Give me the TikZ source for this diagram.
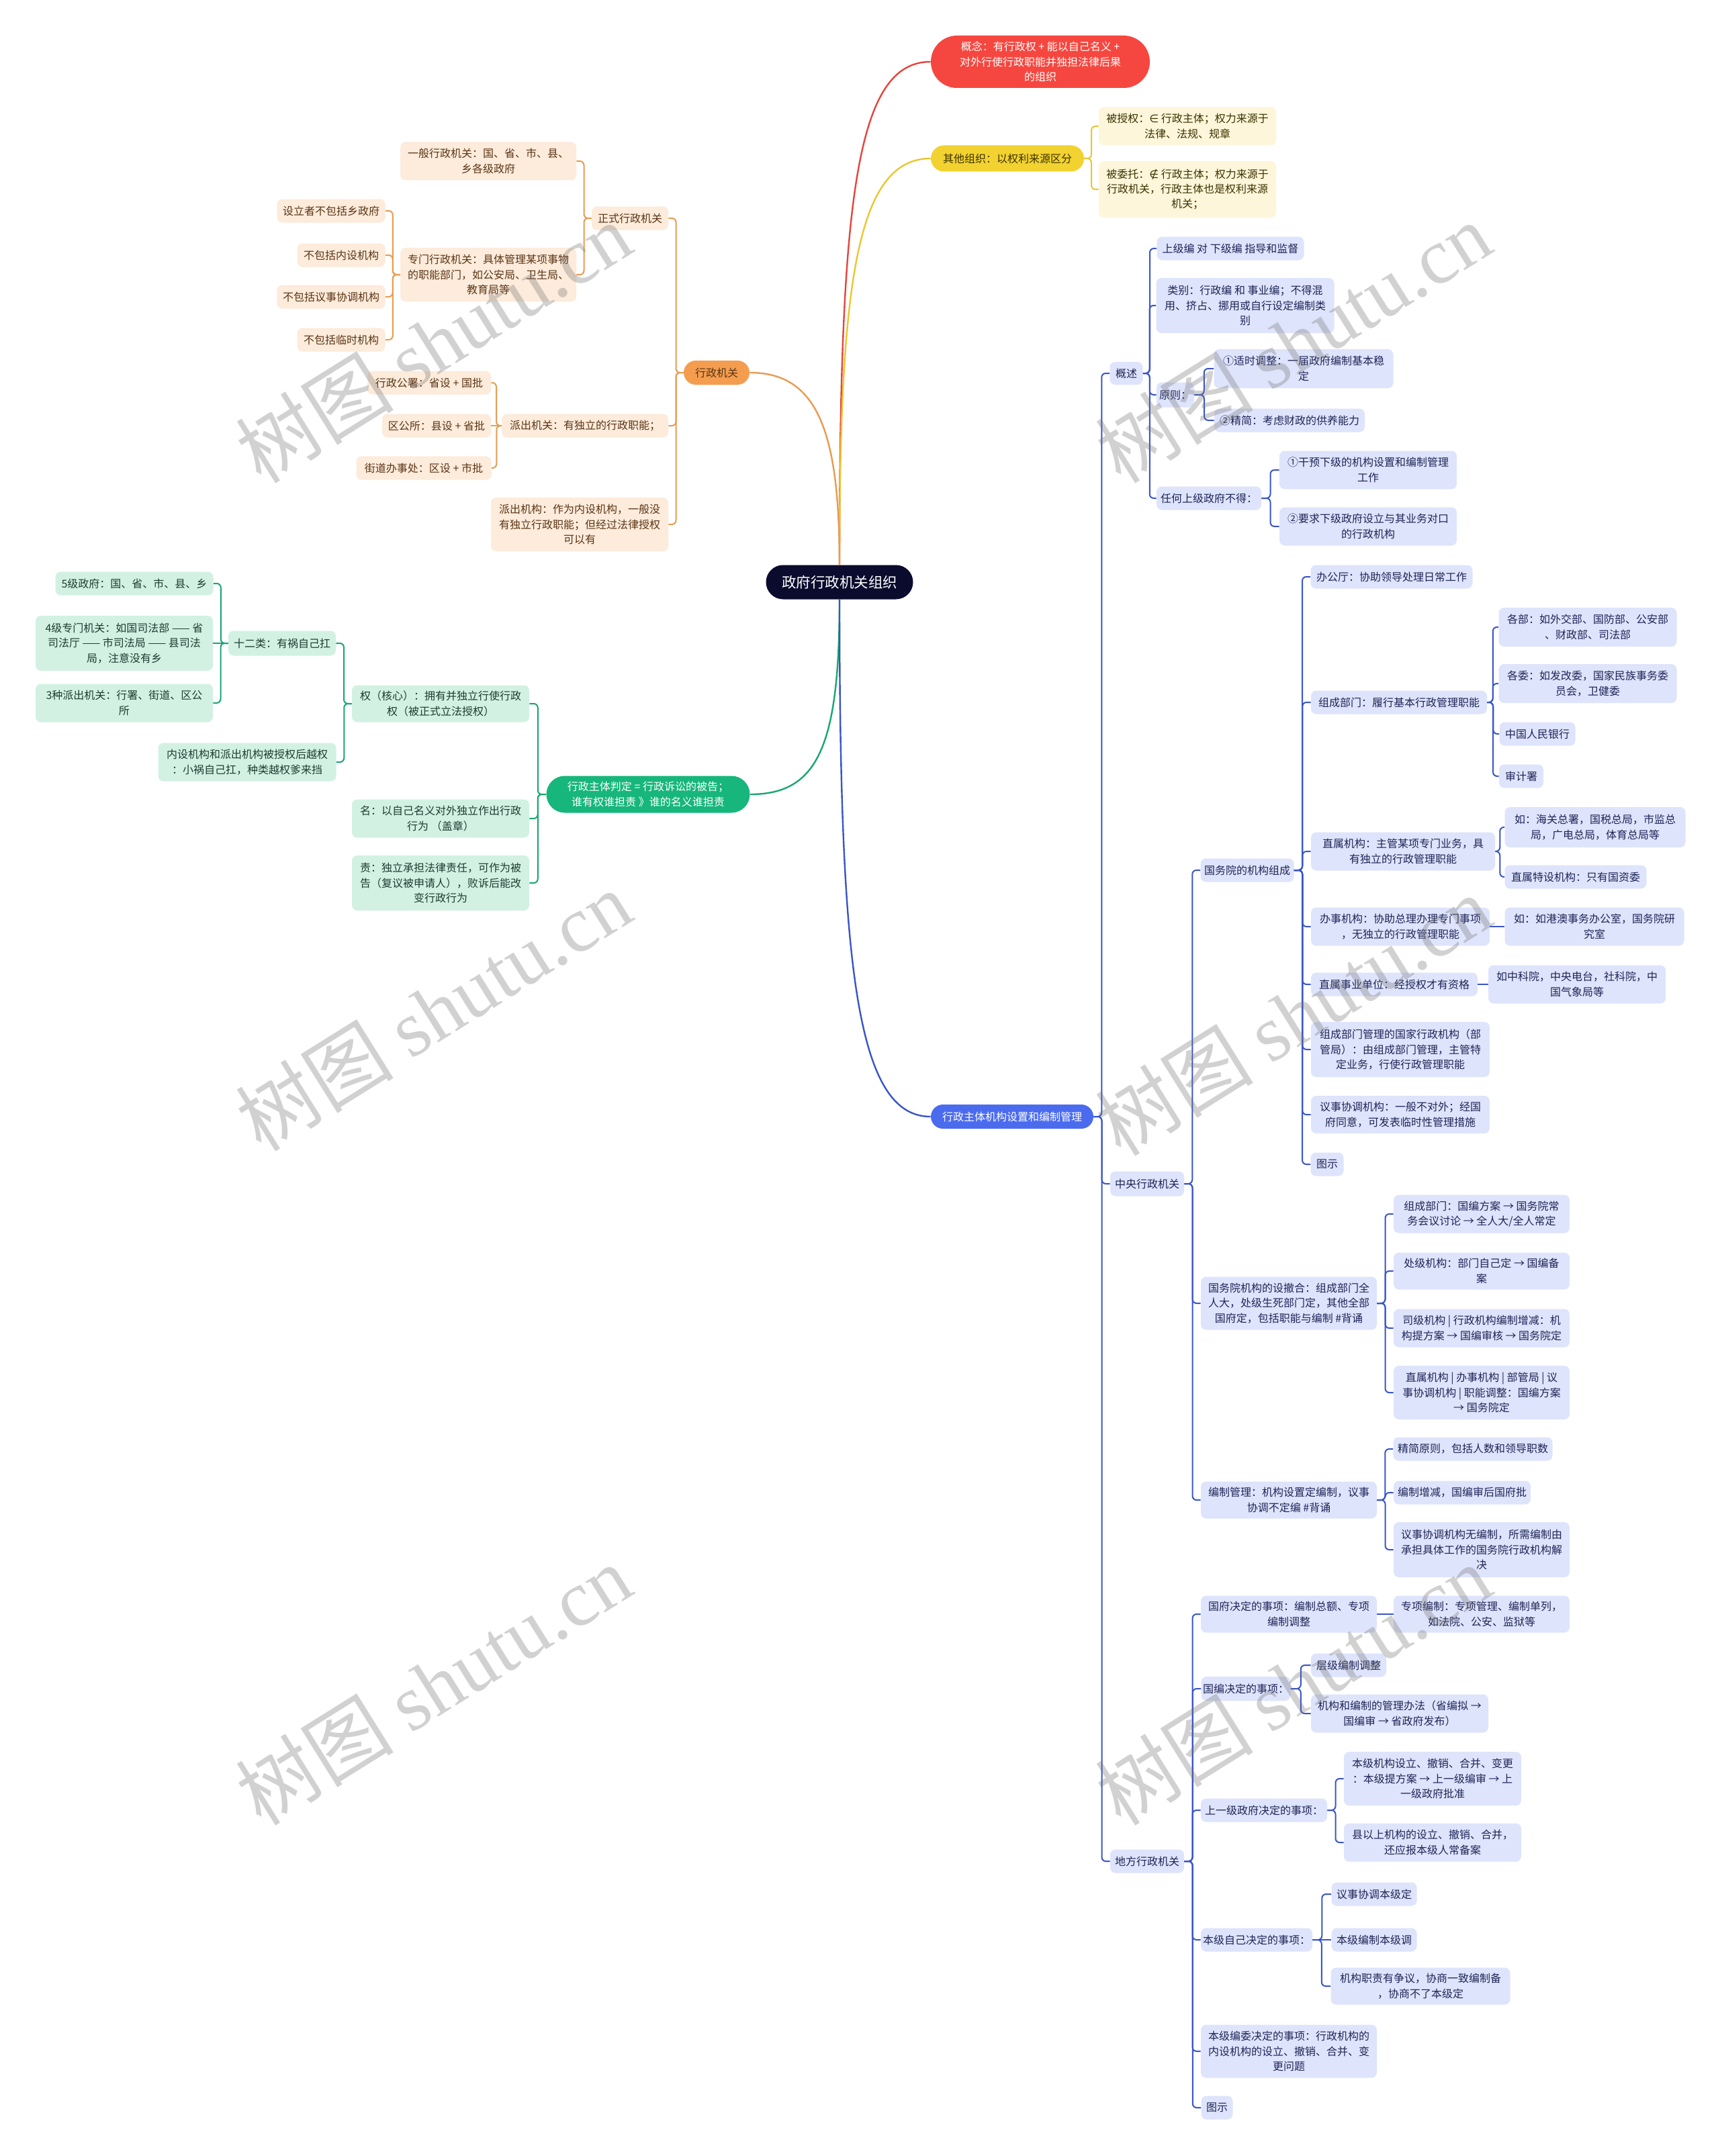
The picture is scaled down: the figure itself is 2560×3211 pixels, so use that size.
\documentclass[tikz,border=0pt]{standalone}
\usepackage{fontspec}
\setmainfont{Noto Sans CJK SC}
\newfontfamily\symf{DejaVu Sans}
\newfontfamily\wmf{Liberation Serif}
\usetikzlibrary{calc}
\definecolor{rootF}{HTML}{0B0B2E}
\definecolor{redF}{HTML}{F5473F}
\definecolor{redLn}{HTML}{E5453C}
\definecolor{yelF}{HTML}{F2D230}
\definecolor{yelL}{HTML}{FDF6DA}
\definecolor{yelLn}{HTML}{ECC631}
\definecolor{yelT}{HTML}{3D3200}
\definecolor{orgF}{HTML}{F59D4F}
\definecolor{orgL}{HTML}{FDEBDB}
\definecolor{orgLn}{HTML}{E99B50}
\definecolor{orgT}{HTML}{5A3515}
\definecolor{grnF}{HTML}{17B67C}
\definecolor{grnL}{HTML}{D2F1E3}
\definecolor{grnLn}{HTML}{1AA673}
\definecolor{grnT}{HTML}{1E3B30}
\definecolor{bluF}{HTML}{4B6BEF}
\definecolor{bluL}{HTML}{DEE4FB}
\definecolor{bluLn}{HTML}{3A55C8}
\definecolor{bluT}{HTML}{1E2556}
\newcommand\cR[3]{\draw[#1] (#2.east) -- ($(#2.east)!0.5!(#2.east -| #3.west)$) |- (#3.west);}
\newcommand\cL[3]{\draw[#1] (#2.west) -- ($(#2.west)!0.5!(#2.west -| #3.east)$) |- (#3.east);}
\begin{document}
\begin{tikzpicture}[x=0.5pt,y=-0.5pt,
  base/.style={rounded corners=4pt, inner sep=0pt, align=center, font=\fontsize{8}{11.2}\selectfont},
  sz/.style 2 args={minimum width=#1*0.5pt, minimum height=#2*0.5pt},
  pill/.style={base, rounded corners=#1*0.25pt},
  obox/.style={base, fill=orgL, text=orgT},
  ybox/.style={base, fill=yelL, text=yelT},
  gbox/.style={base, fill=grnL, text=grnT},
  bbox/.style={base, fill=bluL, text=bluT},
  oln/.style={draw=orgLn, line width=1pt, rounded corners=3pt},
  yln/.style={draw=yelLn, line width=1pt, rounded corners=3pt},
  gln/.style={draw=grnLn, line width=1pt, rounded corners=3pt},
  bln/.style={draw=bluLn, line width=1pt, rounded corners=3pt},
  wmark/.style={rotate=32, text=black!55, text opacity=0.32, font=\fontsize{59}{64}\selectfont}
]
\fill[white] (0,0) rectangle (2560,3211);
\useasboundingbox (0,0) rectangle (2560,3211);

% root
\node[pill=51, sz={219}{51}, fill=rootF, text=white, font=\fontsize{10.75}{14}\selectfont] (root) at (1250,867) {政府行政机关组织};

% red
\node[pill=78, sz={326}{78}, fill=redF, text=white] (red) at (1549,92) {概念：有行政权 + 能以自己名义 +\\对外行使行政职能并独担法律后果\\的组织};

% yellow
\node[pill=39, sz={228}{39}, fill=yelF, text=yelT] (yel) at (1500,236) {其他组织：以权利来源区分};
\node[ybox, sz={264}{57}] (y1) at (1768,188) {被授权：{\symf ∈} 行政主体；权力来源于\\法律、法规、规章};
\node[ybox, sz={264}{84}] (y2) at (1768,282) {被委托：{\symf ∉} 行政主体；权力来源于\\行政机关，行政主体也是权利来源\\机关；};

% orange
\node[pill=36, sz={98}{36}, fill=orgF, text=orgT] (org) at (1067,555) {行政机关};
\node[obox, sz={114}{35}] (o1) at (938,325) {正式行政机关};
\node[obox, sz={262}{57}] (o11) at (727,240) {一般行政机关：国、省、市、县、\\乡各级政府};
\node[obox, sz={262}{80}] (o12) at (727,409) {专门行政机关：具体管理某项事物\\的职能部门，如公安局、卫生局、\\教育局等};
\node[obox, sz={161}{35}] (o121) at (493,314) {设立者不包括乡政府};
\node[obox, sz={131}{35}] (o122) at (508,380) {不包括内设机构};
\node[obox, sz={161}{35}] (o123) at (493,442) {不包括议事协调机构};
\node[obox, sz={131}{35}] (o124) at (508,506) {不包括临时机构};
\node[obox, sz={248}{35}] (o2) at (871,634) {派出机关：有独立的行政职能；};
\node[obox, sz={184}{35}] (o21) at (639,570) {行政公署：省设 + 国批};
\node[obox, sz={162}{35}] (o22) at (650,634) {区公所：县设 + 省批};
\node[obox, sz={201}{35}] (o23) at (631,697) {街道办事处：区设 + 市批};
\node[obox, sz={264}{80}] (o3) at (863,781) {派出机构：作为内设机构，一般没\\有独立行政职能；但经过法律授权\\可以有};

% green
\node[pill=55, sz={303}{55}, fill=grnF, text=white] (grn) at (965,1183) {行政主体判定 = 行政诉讼的被告；\\谁有权谁担责 》谁的名义谁担责};
\node[gbox, sz={264}{55}] (g1) at (656,1048) {权（核心）：拥有并独立行使行政\\权（被正式立法授权）};
\node[gbox, sz={160}{37}] (g11) at (420,958) {十二类：有祸自己扛};
\node[gbox, sz={235}{35}] (g111) at (200,869) {5级政府：国、省、市、县、乡};
\node[gbox, sz={264}{82}] (g112) at (185,958) {4级专门机关：如国司法部 —— 省\\司法厅 —— 市司法局 —— 县司法\\局，注意没有乡};
\node[gbox, sz={264}{57}] (g113) at (185,1047) {3种派出机关：行署、街道、区公\\所};
\node[gbox, sz={265}{57}] (g12) at (368,1135) {内设机构和派出机构被授权后越权\\：小祸自己扛，种类越权爹来挡};
\node[gbox, sz={264}{57}] (g2) at (656,1219) {名：以自己名义对外独立作出行政\\行为 （盖章）};
\node[gbox, sz={264}{82}] (g3) at (656,1315) {责：独立承担法律责任，可作为被\\告（复议被申请人），败诉后能改\\变行政行为};

% blue
\node[pill=36, sz={242}{36}, fill=bluF, text=white] (blu) at (1507,1663) {行政主体机构设置和编制管理};
\node[bbox, sz={49}{34}] (b1) at (1677,556) {概述};
\node[bbox, sz={219}{35}] (b11) at (1832,370) {上级编 对 下级编 指导和监督};
\node[bbox, sz={265}{82}] (b12) at (1854,455) {类别：行政编 和 事业编；不得混\\用、挤占、挪用或自行设定编制类\\别};
\node[bbox, sz={56}{37}] (b13) at (1750,588) {原则：};
\node[bbox, sz={267}{58}] (b131) at (1941,549) {①适时调整：一届政府编制基本稳\\定};
\node[bbox, sz={224}{35}] (b132) at (1920,626) {②精简：考虑财政的供养能力};
\node[bbox, sz={156}{35}] (b14) at (1800,742) {任何上级政府不得：};
\node[bbox, sz={264}{57}] (b141) at (2037,700) {①干预下级的机构设置和编制管理\\工作};
\node[bbox, sz={264}{57}] (b142) at (2037,784) {②要求下级政府设立与其业务对口\\的行政机构};

\node[bbox, sz={110}{37}] (b2) at (1708,1763) {中央行政机关};
\node[bbox, sz={139}{35}] (b21) at (1857,1296) {国务院的机构组成};
\node[bbox, sz={241}{35}] (b211) at (2072,859) {办公厅：协助领导处理日常工作};
\node[bbox, sz={262}{35}] (b212) at (2083,1046) {组成部门：履行基本行政管理职能};
\node[bbox, sz={265}{58}] (b2121) at (2364,934) {各部：如外交部、国防部、公安部\\、财政部、司法部};
\node[bbox, sz={265}{58}] (b2122) at (2364,1018) {各委：如发改委，国家民族事务委\\员会，卫健委};
\node[bbox, sz={113}{35}] (b2123) at (2289,1093) {中国人民银行};
\node[bbox, sz={66}{35}] (b2124) at (2265,1156) {审计署};
\node[bbox, sz={274}{57}] (b213) at (2089,1268) {直属机构：主管某项专门业务，具\\有独立的行政管理职能};
\node[bbox, sz={269}{60}] (b2131) at (2375,1232) {如：海关总署，国税总局，市监总\\局，广电总局，体育总局等};
\node[bbox, sz={211}{35}] (b2132) at (2346,1306) {直属特设机构：只有国资委};
\node[bbox, sz={266}{57}] (b214) at (2085,1380) {办事机构：协助总理办理专门事项\\，无独立的行政管理职能};
\node[bbox, sz={267}{57}] (b2141) at (2374,1380) {如：如港澳事务办公室，国务院研\\究室};
\node[bbox, sz={248}{35}] (b215) at (2076,1466) {直属事业单位：经授权才有资格};
\node[bbox, sz={264}{57}] (b2151) at (2348,1466) {如中科院，中央电台，社科院，中\\国气象局等};
\node[bbox, sz={266}{82}] (b216) at (2085,1563) {组成部门管理的国家行政机构（部\\管局）：由组成部门管理，主管特\\定业务，行使行政管理职能};
\node[bbox, sz={266}{56}] (b217) at (2085,1660) {议事协调机构：一般不对外；经国\\府同意，可发表临时性管理措施};
\node[bbox, sz={49}{35}] (b218) at (1976,1734) {图示};

\node[bbox, sz={262}{79}] (b22) at (1919,1941) {国务院机构的设撤合：组成部门全\\人大，处级生死部门定，其他全部\\国府定，包括职能与编制 \#背诵};
\node[bbox, sz={262}{57}] (b221) at (2206,1808) {组成部门：国编方案 → 国务院常\\务会议讨论 → 全人大/全人常定};
\node[bbox, sz={262}{55}] (b222) at (2206,1893) {处级机构：部门自己定 → 国编备\\案};
\node[bbox, sz={262}{57}] (b223) at (2206,1978) {司级机构 | 行政机构编制增减：机\\构提方案 → 国编审核 → 国务院定};
\node[bbox, sz={262}{80}] (b224) at (2206,2074) {直属机构 | 办事机构 | 部管局 | 议\\事协调机构 | 职能调整：国编方案\\→ 国务院定};
\node[bbox, sz={262}{55}] (b23) at (1919,2234) {编制管理：机构设置定编制，议事\\协调不定编 \#背诵};
\node[bbox, sz={237}{35}] (b231) at (2193,2158) {精简原则，包括人数和领导职数};
\node[bbox, sz={204}{35}] (b232) at (2177,2223) {编制增减，国编审后国府批};
\node[bbox, sz={262}{82}] (b233) at (2206,2308) {议事协调机构无编制，所需编制由\\承担具体工作的国务院行政机构解\\决};

\node[bbox, sz={110}{35}] (b3) at (1708,2772) {地方行政机关};
\node[bbox, sz={262}{55}] (b31) at (1919,2404) {国府决定的事项：编制总额、专项\\编制调整};
\node[bbox, sz={262}{55}] (b311) at (2206,2404) {专项编制：专项管理、编制单列，\\如法院、公安、监狱等};
\node[bbox, sz={133}{36}] (b32) at (1855,2515) {国编决定的事项：};
\node[bbox, sz={112}{35}] (b321) at (2008,2480) {层级编制调整};
\node[bbox, sz={264}{57}] (b322) at (2084,2552) {机构和编制的管理办法（省编拟 →\\国编审 → 省政府发布）};
\node[bbox, sz={188}{35}] (b33) at (1882,2696) {上一级政府决定的事项：};
\node[bbox, sz={264}{80}] (b331) at (2133,2649) {本级机构设立、撤销、合并、变更\\：本级提方案 → 上一级编审 → 上\\一级政府批准};
\node[bbox, sz={264}{57}] (b332) at (2133,2744) {县以上机构的设立、撤销、合并，\\还应报本级人常备案};
\node[bbox, sz={166}{35}] (b34) at (1871,2889) {本级自己决定的事项：};
\node[bbox, sz={127}{35}] (b341) at (2046,2821) {议事协调本级定};
\node[bbox, sz={127}{35}] (b342) at (2046,2889) {本级编制本级调};
\node[bbox, sz={267}{55}] (b343) at (2115,2958) {机构职责有争议，协商一致编制备\\，协商不了本级定};
\node[bbox, sz={262}{79}] (b35) at (1919,3055) {本级编委决定的事项：行政机构的\\内设机构的设立、撤销、合并、变\\更问题};
\node[bbox, sz={47}{35}] (b36) at (1812,3139) {图示};

% main curves
\draw[redLn, line width=1.2pt] (root.north) .. controls +(0,-550) and +(-110,0) .. (red.west);
\draw[yelLn, line width=1.2pt] (root.north) .. controls +(0,-420) and +(-110,0) .. (yel.west);
\draw[orgLn, line width=1.2pt] (root.north) .. controls +(0,-200) and +(100,0) .. (org.east);
\draw[grnLn, line width=1.2pt] (root.south) .. controls +(0,220) and +(100,0) .. (grn.east);
\draw[bluLn, line width=1.2pt] (root.south) .. controls +(0,550) and +(-110,0) .. (blu.west);

% yellow
\cR{yln}{yel}{y1} \cR{yln}{yel}{y2}
% orange
\cL{oln}{org}{o1} \cL{oln}{org}{o2} \cL{oln}{org}{o3}
\cL{oln}{o1}{o11} \cL{oln}{o1}{o12}
\cL{oln}{o12}{o121} \cL{oln}{o12}{o122} \cL{oln}{o12}{o123} \cL{oln}{o12}{o124}
\cL{oln}{o2}{o21} \draw[oln] (o2.west) -- (o22.east); \cL{oln}{o2}{o23}
% green
\cL{gln}{grn}{g1} \cL{gln}{grn}{g2} \cL{gln}{grn}{g3}
\cL{gln}{g1}{g11} \cL{gln}{g1}{g12}
\cL{gln}{g11}{g111} \draw[gln] (g11.west) -- (g112.east); \cL{gln}{g11}{g113}
% blue
\cR{bln}{blu}{b1} \cR{bln}{blu}{b2} \cR{bln}{blu}{b3}
\cR{bln}{b1}{b11} \cR{bln}{b1}{b12} \cR{bln}{b1}{b13} \cR{bln}{b1}{b14}
\cR{bln}{b13}{b131} \cR{bln}{b13}{b132}
\cR{bln}{b14}{b141} \cR{bln}{b14}{b142}
\cR{bln}{b2}{b21} \cR{bln}{b2}{b22} \cR{bln}{b2}{b23}
\cR{bln}{b21}{b211} \cR{bln}{b21}{b212} \cR{bln}{b21}{b213} \cR{bln}{b21}{b214}
\cR{bln}{b21}{b215} \cR{bln}{b21}{b216} \cR{bln}{b21}{b217} \cR{bln}{b21}{b218}
\cR{bln}{b212}{b2121} \cR{bln}{b212}{b2122} \cR{bln}{b212}{b2123} \cR{bln}{b212}{b2124}
\cR{bln}{b213}{b2131} \cR{bln}{b213}{b2132}
\draw[bln] (b214.east) -- (b2141.west);
\draw[bln] (b215.east) -- (b2151.west);
\cR{bln}{b22}{b221} \cR{bln}{b22}{b222} \cR{bln}{b22}{b223} \cR{bln}{b22}{b224}
\cR{bln}{b23}{b231} \cR{bln}{b23}{b232} \cR{bln}{b23}{b233}
\cR{bln}{b3}{b31} \cR{bln}{b3}{b32} \cR{bln}{b3}{b33} \cR{bln}{b3}{b34} \cR{bln}{b3}{b35} \cR{bln}{b3}{b36}
\draw[bln] (b31.east) -- (b311.west);
\cR{bln}{b32}{b321} \cR{bln}{b32}{b322}
\cR{bln}{b33}{b331} \cR{bln}{b33}{b332}
\cR{bln}{b34}{b341} \draw[bln] (b34.east) -- (b342.west); \cR{bln}{b34}{b343}

% watermarks
\node[wmark] (w1) at (645,510) {树图 {\wmf shutu.cn}};
\node[wmark] (w2) at (645,1505) {树图 {\wmf shutu.cn}};
\node[wmark] (w3) at (645,2509) {树图 {\wmf shutu.cn}};
\node[wmark] (w4) at (1925,510) {树图 {\wmf shutu.cn}};
\node[wmark] (w5) at (1925,1512) {树图 {\wmf shutu.cn}};
\node[wmark] (w6) at (1925,2509) {树图 {\wmf shutu.cn}};
\end{tikzpicture}
\end{document}
